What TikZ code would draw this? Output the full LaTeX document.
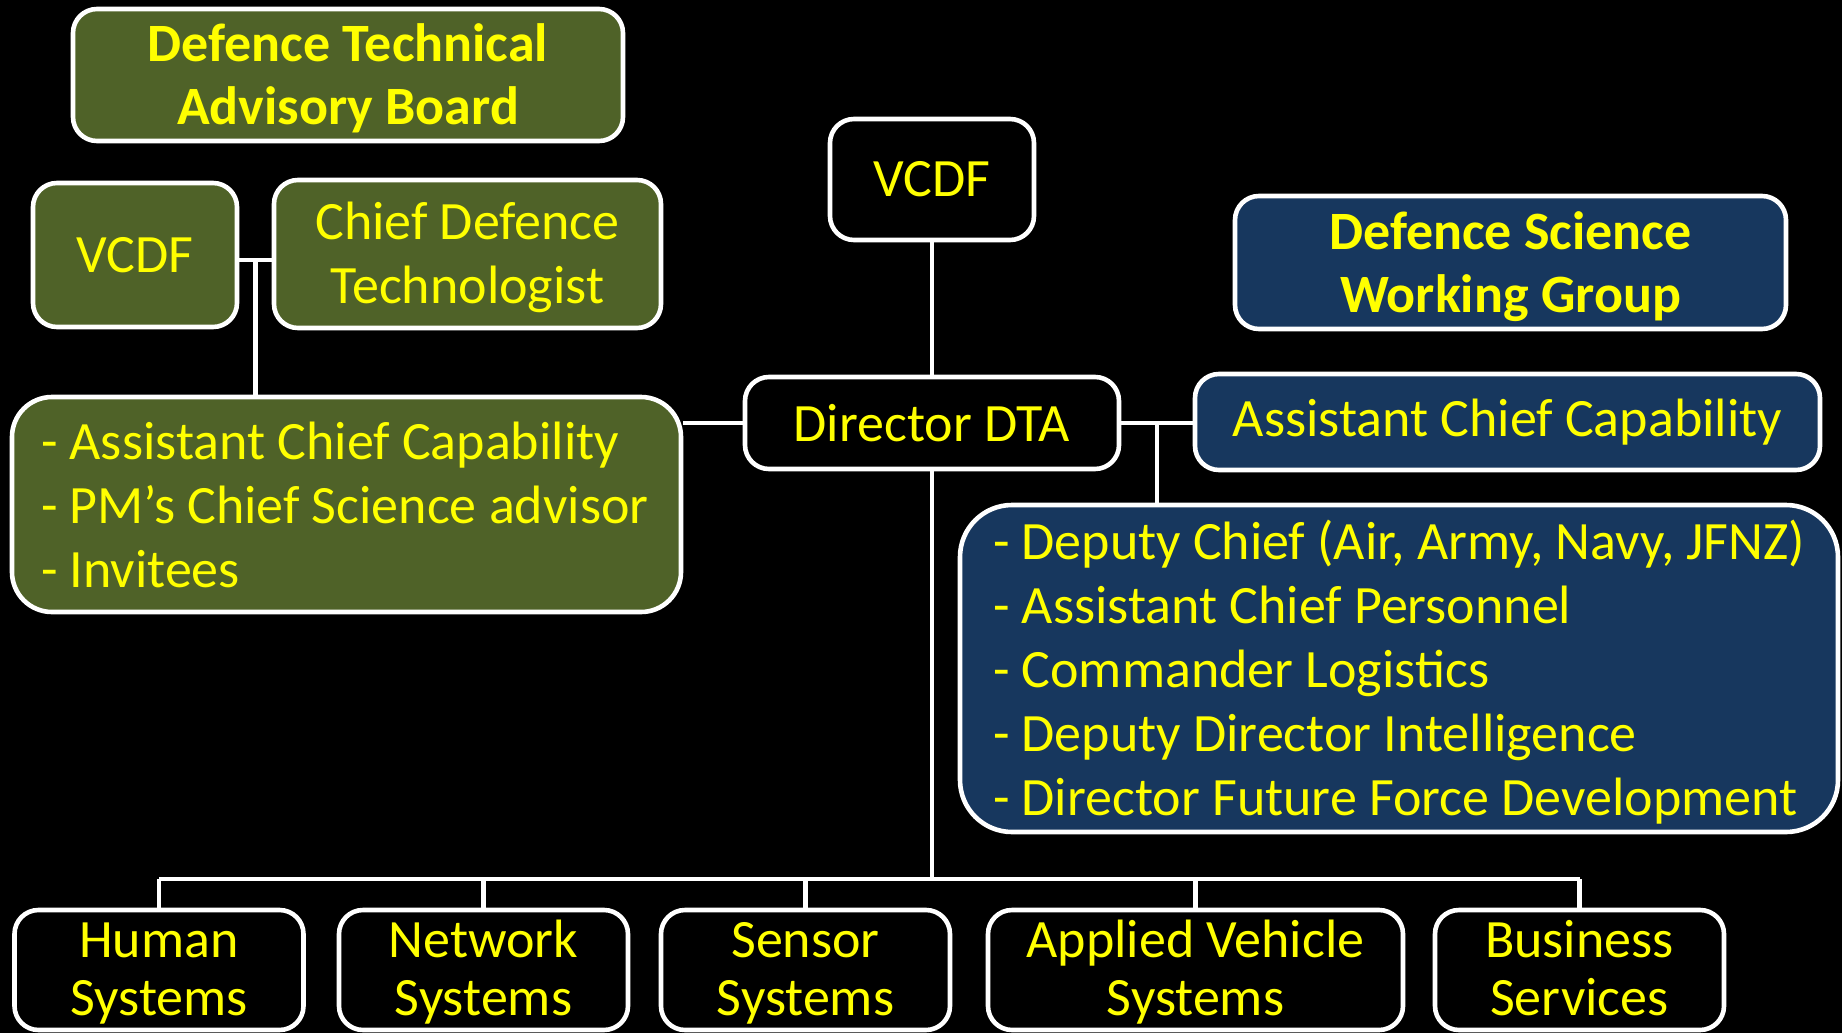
\documentclass[tikz,border=0pt]{standalone}
\usepackage{fontspec}
\setmainfont{Carlito}
\usetikzlibrary{calc}
\definecolor{dtaYellow}{HTML}{FFFF00}
\definecolor{dtabGreen}{HTML}{4F6228}
\definecolor{dswgBlue}{HTML}{17375E}
\tikzset{
  unit/.style={draw=white, line width=2.3pt, rounded corners=12pt, text=dtaYellow,
    align=center, inner sep=0pt, font=\fontsize{27}{32}\selectfont},
  board/.style={unit, fill=dtabGreen},
  group/.style={unit, fill=dswgBlue},
  office/.style={unit, fill=black},
  twoline/.style={text height=54.5pt, text depth=5pt},
  branch/.style={office, text height=51pt, text depth=6pt, minimum height=60pt, font=\fontsize{27}{29}\selectfont},
  members/.style={rounded corners=20pt, align=flush left},
  heading/.style={twoline, font=\bfseries\fontsize{27}{31.5}\selectfont},
  link/.style={draw=white, line width=2.2pt},
}
\begin{document}
\begin{tikzpicture}[x=0.5pt,y=-0.5pt]
    \fill[black] (0,0) rectangle (1842,1033);
    \useasboundingbox (0,0) rectangle (1842,1033);
    % advisory board
    \node[board, heading, minimum width=275pt, minimum height=66pt] (dtab) at (348,75) {Defence Technical\\Advisory Board};
    \node[board, minimum width=102pt, minimum height=72pt] (vcdfL) at (135,255) {VCDF};
    \node[board, twoline, minimum width=193.5pt, minimum height=74pt] (cdt) at (467.5,254) {Chief Defence\\Technologist};
    \node[board, members, text width=305.5pt, inner xsep=14.5pt, minimum height=107.5pt] (advList) at (346.5,504.5)
        {- Assistant Chief Capability\\- PM’s Chief Science advisor\\- Invitees};
    % centre
    \node[office, minimum width=102pt, minimum height=60.5pt] (vcdfT) at (932,179.5) {VCDF};
    \node[office, minimum width=187pt, minimum height=46pt] (dir) at (932,423) {Director DTA};
    % working group
    \node[group, heading, minimum width=275.5pt, minimum height=66.5pt] (dswg) at (1510.5,262.5) {Defence Science\\Working Group};
    \node[group, minimum width=312.5pt, minimum height=48pt] (acc) at (1507.5,422) {Assistant Chief Capability};
    \node[group, members, rounded corners=26pt, text width=406pt, inner xsep=16.5pt, text height=20pt, text depth=129.5pt, minimum height=163.5pt] (wgList) at (1399,668.5)
        {- Deputy Chief (Air, Army, Navy, JFNZ)\\- Assistant Chief Personnel\\- Commander Logistics\\- Deputy Director Intelligence\\- Director Future Force Development};
    % branches
    \node[branch, minimum width=144.5pt] (human) at (159,970) {Human\\Systems};
    \node[branch, minimum width=144.5pt] (network) at (483.5,970) {Network\\Systems};
    \node[branch, minimum width=144.5pt] (sensor) at (805.5,970) {Sensor\\Systems};
    \node[branch, minimum width=207.5pt] (vehicle) at (1195.5,970) {Applied Vehicle\\Systems};
    \node[branch, minimum width=144.5pt] (business) at (1579.5,970) {Business\\Services};
    % links
    \coordinate (vcdfLink) at ([yshift=-2.5pt]vcdfL.east);
    \coordinate (jL) at ($(vcdfLink)!.5!(vcdfLink -| cdt.west)$);
    \draw[link] (vcdfLink) -- (vcdfLink -| cdt.west);
    \draw[link] (jL) -- (jL |- advList.north);
    \draw[link] (dir.west) -- (dir.west -| advList.east);
    \draw[link] (vcdfT.south) -- (dir.north);
    \coordinate (jR) at ($(dir.east)!.5!(dir.east -| acc.west)$);
    \draw[link] (dir.east) -- (dir.east -| acc.west);
    \draw[link] (jR) -- (jR |- wgList.north);
    \coordinate (bus) at (932,879);
    \draw[link] (dir.south) -- (bus);
    \draw[link] (bus -| human.north) -- (bus -| business.north);
    \foreach \unitname in {human,network,sensor,vehicle,business}
        \draw[link] (\unitname.north) -- (bus -| \unitname.north);
\end{tikzpicture}
\end{document}
